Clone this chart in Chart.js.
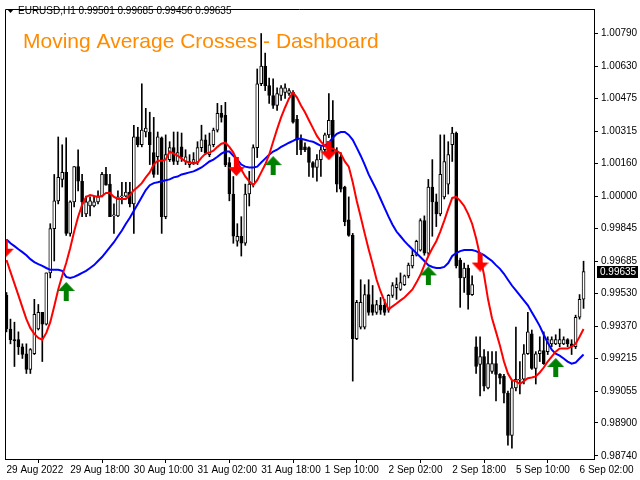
<!DOCTYPE html>
<html>
<head>
<meta charset="utf-8">
<script src="https://cdn.jsdelivr.net/npm/chart.js@4.4.1/dist/chart.umd.min.js"></script>
<style>
  html, body { margin: 0; padding: 0; background: #fff; }
  #wrap { width: 640px; height: 480px; }
</style>
</head>
<body>
<div id="wrap"><canvas id="chart" width="640" height="480"></canvas></div>
<script>
const symbol = 'EURUSD,H1';
const title = 'Moving Average Crosses - Dashboard';

// x axis: bar index -> time label
const tickIdx = [0, 16, 32, 48, 64, 80, 96, 112, 128, 144];
const timeLabels = ['29 Aug 2022', '29 Aug 18:00', '30 Aug 10:00', '31 Aug 02:00', '31 Aug 18:00',
  '1 Sep 10:00', '2 Sep 02:00', '2 Sep 18:00', '5 Sep 10:00', '6 Sep 02:00'];

// price axis labels
const yTicks = [0.98740, 0.98900, 0.99055, 0.99215, 0.99370, 0.99530, 0.99685,
  0.99845, 1.00000, 1.00160, 1.00315, 1.00475, 1.00630, 1.00790];

// H1 candles
const open = [
  0.99519,0.99356,0.99304,0.99304,0.99270,0.99236,0.99160,0.99236,0.99356,0.99437,
  0.99379,0.99628,0.99843,0.99978,1.00082,1.00116,0.99820,0.99973,1.00144,1.00073,
  0.99915,0.99953,0.99953,0.99973,1.00001,1.00106,1.00059,0.99905,0.99905,0.99997,
  1.00001,1.00021,0.99963,1.00288,1.00250,1.00312,1.00312,1.00212,1.00192,1.00284,
  0.99901,1.00178,1.00236,1.00169,1.00240,1.00169,1.00154,1.00164,1.00164,1.00236,
  1.00274,1.00202,1.00250,1.00321,1.00403,1.00393,1.00164,1.00011,0.99782,0.99806,
  0.99772,1.00011,1.00059,1.00236,1.00546,1.00632,1.00537,1.00489,1.00441,1.00489,
  1.00504,1.00499,1.00504,1.00374,1.00274,1.00240,1.00236,1.00164,1.00140,1.00178,
  1.00226,1.00298,1.00369,1.00217,1.00192,1.00045,0.99886,0.99810,0.99309,0.99365,
  0.99365,0.99523,0.99475,0.99437,0.99471,0.99471,0.99447,0.99519,0.99557,0.99548,
  0.99571,0.99614,0.99662,0.99714,0.99739,0.99882,0.99724,1.00045,0.99973,0.99915,
  0.99997,1.00059,1.00250,1.00307,0.99691,0.99604,0.99652,0.99523,0.99270,0.99184,
  0.99222,0.99070,0.99150,0.99188,0.99136,0.99126,0.99045,0.98840,0.99070,0.99107,
  0.99112,0.99236,0.99332,0.99165,0.99236,0.99251,0.99246,0.99284,0.99284,0.99284,
  0.99284,0.99304,0.99284,0.99270,0.99413,0.99501];
const high = [
  0.99533,0.99404,0.99389,0.99342,0.99284,0.99284,0.99261,0.99500,0.99475,0.99437,
  0.99628,0.99867,1.00106,1.00288,1.00250,1.00284,0.99978,1.00144,1.00226,1.00106,
  1.00001,0.99997,1.00001,1.00026,1.00116,1.00140,1.00106,0.99963,1.00026,1.00068,
  1.00068,1.00068,1.00345,1.00335,1.00546,1.00427,1.00408,1.00383,1.00312,1.00288,
  1.00298,1.00265,1.00312,1.00312,1.00307,1.00226,1.00202,1.00212,1.00265,1.00345,
  1.00298,1.00307,1.00331,1.00451,1.00441,1.00456,1.00188,1.00096,0.99867,0.99901,
  1.00059,1.00121,1.00250,1.00618,1.00790,1.00695,1.00574,1.00570,1.00527,1.00537,
  1.00546,1.00523,1.00513,1.00393,1.00298,1.00260,1.00240,1.00169,1.00202,1.00240,
  1.00307,1.00499,1.00465,1.00236,1.00212,1.00049,0.99997,0.99820,0.99495,0.99595,
  0.99571,0.99595,0.99567,0.99495,0.99509,0.99500,0.99523,0.99581,0.99604,0.99628,
  0.99618,0.99676,0.99739,0.99787,0.99891,0.99905,1.00082,1.00178,1.00011,1.00298,
  1.00298,1.00265,1.00335,1.00312,0.99700,0.99676,0.99666,0.99614,0.99318,0.99318,
  0.99256,0.99246,0.99246,0.99246,0.99140,0.99136,0.99055,0.99103,0.99365,0.99198,
  0.99280,0.99437,0.99351,0.99246,0.99318,0.99342,0.99318,0.99318,0.99328,0.99356,
  0.99318,0.99309,0.99304,0.99423,0.99523,0.99685];
const low = [
  0.99342,0.99284,0.99174,0.99232,0.99213,0.99140,0.99140,0.99232,0.99351,0.99198,
  0.99375,0.99604,0.99686,0.99963,1.00045,0.99810,0.99806,0.99949,1.00026,0.99901,
  0.99901,0.99905,0.99949,0.99963,0.99997,1.00054,0.99901,0.99820,0.99901,0.99963,
  0.99997,0.99949,0.99820,1.00240,1.00240,1.00288,1.00154,1.00092,1.00106,0.99820,
  0.99891,1.00169,1.00154,1.00154,1.00169,1.00154,1.00140,1.00154,1.00154,1.00217,
  1.00202,1.00192,1.00240,1.00312,1.00360,1.00144,0.99978,0.99772,0.99758,0.99710,
  0.99762,0.99953,1.00045,1.00188,1.00537,1.00513,1.00451,1.00427,1.00417,1.00465,
  1.00475,1.00489,1.00355,1.00202,1.00202,1.00217,1.00096,1.00092,1.00073,1.00096,
  1.00217,1.00284,1.00212,1.00021,1.00021,0.99857,0.99806,0.99103,0.99304,0.99356,
  0.99356,0.99423,0.99423,0.99427,0.99427,0.99423,0.99437,0.99509,0.99500,0.99543,
  0.99567,0.99604,0.99652,0.99710,0.99734,0.99714,0.99714,0.99806,0.99853,0.99905,
  0.99987,1.00011,1.00169,0.99652,0.99461,0.99533,0.99452,0.99519,0.99140,0.99031,
  0.99055,0.99065,0.99140,0.99007,0.99089,0.98997,0.98792,0.98778,0.99055,0.99041,
  0.99089,0.99232,0.99160,0.99089,0.99198,0.99184,0.99232,0.99270,0.99280,0.99270,
  0.99280,0.99270,0.99232,0.99261,0.99404,0.99456];
const close = [
  0.99356,0.99304,0.99299,0.99270,0.99232,0.99160,0.99256,0.99427,0.99437,0.99379,
  0.99628,0.99843,0.99978,1.00092,1.00116,0.99820,0.99973,1.00144,1.00073,0.99973,
  0.99973,0.99978,0.99973,1.00001,1.00106,1.00054,0.99901,0.99905,0.99997,1.00001,
  1.00021,0.99963,1.00288,1.00250,1.00321,1.00331,1.00250,1.00106,1.00288,0.99901,
  1.00202,1.00236,1.00169,1.00212,1.00192,1.00192,1.00169,1.00178,1.00236,1.00274,
  1.00212,1.00250,1.00321,1.00403,1.00383,1.00154,1.00011,0.99806,0.99806,0.99772,
  1.00011,1.00059,1.00236,1.00546,1.00632,1.00537,1.00489,1.00441,1.00499,1.00527,
  1.00527,1.00513,1.00360,1.00274,1.00226,1.00226,1.00164,1.00140,1.00178,1.00226,
  1.00298,1.00369,1.00217,1.00059,1.00035,0.99877,0.99810,0.99309,0.99485,0.99485,
  0.99523,0.99437,0.99437,0.99475,0.99447,0.99437,0.99519,0.99567,0.99571,0.99581,
  0.99614,0.99666,0.99714,0.99782,0.99882,0.99724,1.00045,0.99973,0.99915,1.00106,
  1.00169,1.00202,1.00307,0.99662,0.99604,0.99652,0.99523,0.99571,0.99174,0.99222,
  0.99079,0.99188,0.99188,0.99136,0.99117,0.99045,0.98840,0.99070,0.99112,0.99112,
  0.99236,0.99342,0.99165,0.99236,0.99251,0.99188,0.99304,0.99304,0.99304,0.99304,
  0.99304,0.99284,0.99270,0.99413,0.99500,0.99635];

// fast MA (red) and slow MA (blue)
const fastMA = [
  0.99691,0.99633,0.99576,0.99519,0.99461,0.99404,0.99360,0.99332,0.99313,0.99304,
  0.99337,0.99389,0.99466,0.99548,0.99614,0.99676,0.99748,0.99829,0.99901,0.99958,
  0.99997,1.00006,1.00001,0.99997,1.00001,1.00016,1.00016,0.99997,0.99987,0.99987,
  0.99987,1.00006,1.00030,1.00045,1.00064,1.00092,1.00116,1.00154,1.00173,1.00173,
  1.00178,1.00217,1.00207,1.00197,1.00183,1.00169,1.00164,1.00159,1.00164,1.00188,
  1.00207,1.00212,1.00221,1.00240,1.00255,1.00260,1.00240,1.00212,1.00169,1.00130,
  1.00096,1.00073,1.00054,1.00078,1.00116,1.00154,1.00202,1.00265,1.00326,1.00383,
  1.00431,1.00475,1.00504,1.00479,1.00441,1.00408,1.00369,1.00331,1.00293,1.00265,
  1.00245,1.00236,1.00231,1.00221,1.00207,1.00169,1.00144,1.00068,0.99978,0.99901,
  0.99820,0.99743,0.99671,0.99595,0.99538,0.99490,0.99452,0.99466,0.99480,0.99495,
  0.99509,0.99528,0.99548,0.99581,0.99618,0.99666,0.99710,0.99748,0.99782,0.99829,
  0.99882,0.99939,0.99992,0.99997,0.99978,0.99953,0.99915,0.99867,0.99796,0.99710,
  0.99618,0.99500,0.99408,0.99342,0.99275,0.99198,0.99140,0.99107,0.99103,0.99089,
  0.99103,0.99117,0.99121,0.99126,0.99145,0.99169,0.99198,0.99222,0.99246,0.99261,
  0.99261,0.99261,0.99270,0.99284,0.99318,0.99356];
const slowMA = [
  0.99791,0.99772,0.99758,0.99743,0.99729,0.99714,0.99695,0.99681,0.99671,0.99662,
  0.99652,0.99643,0.99643,0.99643,0.99638,0.99609,0.99604,0.99609,0.99618,0.99628,
  0.99638,0.99652,0.99666,0.99686,0.99705,0.99729,0.99753,0.99777,0.99806,0.99834,
  0.99867,0.99896,0.99930,0.99963,0.99997,1.00030,1.00054,1.00064,1.00068,1.00073,
  1.00078,1.00082,1.00092,1.00096,1.00106,1.00111,1.00116,1.00121,1.00130,1.00140,
  1.00154,1.00169,1.00178,1.00192,1.00207,1.00217,1.00217,1.00197,1.00178,1.00154,
  1.00144,1.00140,1.00140,1.00144,1.00164,1.00183,1.00202,1.00217,1.00226,1.00240,
  1.00250,1.00260,1.00269,1.00279,1.00279,1.00274,1.00269,1.00265,1.00255,1.00245,
  1.00245,1.00260,1.00284,1.00303,1.00312,1.00312,1.00298,1.00274,1.00236,1.00197,
  1.00154,1.00106,1.00068,1.00030,0.99987,0.99944,0.99901,0.99862,0.99829,0.99806,
  0.99782,0.99762,0.99743,0.99724,0.99705,0.99686,0.99666,0.99657,0.99652,0.99652,
  0.99657,0.99676,0.99710,0.99724,0.99734,0.99739,0.99739,0.99739,0.99734,0.99724,
  0.99714,0.99700,0.99686,0.99666,0.99648,0.99624,0.99595,0.99567,0.99543,0.99519,
  0.99495,0.99471,0.99437,0.99404,0.99370,0.99328,0.99289,0.99256,0.99236,0.99227,
  0.99213,0.99198,0.99188,0.99193,0.99213,0.99232];

// cross signals
const buyIdx = [15, 67, 106, 138];
const buyPrice = [0.99538, 1.00149, 0.99614, 0.99169];
const sellIdx = [-0.3, 57.75, 81, 119];
const sellPrice = [0.99748, 1.00144, 1.00221, 0.99681];

const idx = close.map((_, i) => i);

function arrowImage(up, color) {
    const c = document.createElement('canvas');
    c.width = 17;
    c.height = 19;
    const g = c.getContext('2d');
    g.fillStyle = color;
    g.beginPath();
    if (up) {
        g.moveTo(8.5, 0); g.lineTo(17, 9); g.lineTo(11, 9); g.lineTo(11, 19);
        g.lineTo(6, 19); g.lineTo(6, 9); g.lineTo(0, 9);
    } else {
        g.moveTo(6, 0); g.lineTo(11, 0); g.lineTo(11, 10); g.lineTo(17, 10);
        g.lineTo(8.5, 19); g.lineTo(0, 10); g.lineTo(6, 10);
    }
    g.closePath();
    g.fill();
    return c;
}

const font = 'Liberation Sans';

const decor = {
    id: 'decor',
    afterDraw(chart) {
        const { ctx, chartArea: a, scales: { y } } = chart;
        ctx.save();
        // frame top / left
        ctx.strokeStyle = '#000';
        ctx.lineWidth = 1;
        ctx.beginPath();
        ctx.moveTo(a.left + 0.5, a.bottom);
        ctx.lineTo(a.left + 0.5, a.top + 0.5);
        ctx.lineTo(a.right, a.top + 0.5);
        ctx.stroke();

        // header line
        const n = close.length - 1;
        ctx.fillStyle = '#000';
        ctx.beginPath();
        ctx.moveTo(7, 9); ctx.lineTo(14, 9); ctx.lineTo(10.5, 13);
        ctx.closePath();
        ctx.fill();
        ctx.font = `10px "${font}"`;
        ctx.textBaseline = 'middle';
        ctx.textAlign = 'left';
        const head = `${symbol} ${open[n].toFixed(5)} ${high[n].toFixed(5)} ${low[n].toFixed(5)} ${close[n].toFixed(5)}`;
        ctx.fillText(head, 18, 11);

        // title
        ctx.fillStyle = '#FF8C00';
        ctx.font = `21px "${font}"`;
        ctx.textBaseline = 'alphabetic';
        ctx.fillText(title, 23, 48);

        // last price tag
        const last = close[n];
        const py = Math.round(y.getPixelForValue(last));
        ctx.fillStyle = '#000';
        ctx.fillRect(a.right + 3, py - 6, 41, 12);
        ctx.fillStyle = '#fff';
        ctx.font = `10px "${font}"`;
        ctx.textBaseline = 'middle';
        ctx.fillText(last.toFixed(5), a.right + 6, py);
        ctx.restore();
    }
};

const axisFont = { family: font, size: 10 };

new Chart(document.getElementById('chart'), {
    type: 'bar',
    data: {
        datasets: [
            {
                label: 'wick',
                data: idx.map(i => ({ x: i, y: [low[i], high[i]] })),
                backgroundColor: '#000',
                barThickness: 1,
                grouped: false,
                order: 5
            },
            {
                label: 'body',
                data: idx.map(i => ({ x: i, y: [open[i], close[i]] })),
                backgroundColor: (c) => close[c.dataIndex] >= open[c.dataIndex] ? '#fff' : '#000',
                borderColor: '#000',
                borderWidth: 1,
                borderSkipped: false,
                barThickness: 3,
                minBarLength: 1,
                grouped: false,
                order: 4
            },
            {
                type: 'line',
                label: 'slow',
                data: idx.map(i => ({ x: i, y: slowMA[i] })),
                borderColor: '#0000FF',
                borderWidth: 2,
                pointRadius: 0,
                tension: 0,
                order: 3
            },
            {
                type: 'line',
                label: 'fast',
                data: idx.map(i => ({ x: i, y: fastMA[i] })),
                borderColor: '#FF0000',
                borderWidth: 2,
                pointRadius: 0,
                tension: 0,
                order: 2
            },
            {
                type: 'scatter',
                label: 'buy',
                data: buyIdx.map((x, k) => ({ x: x, y: buyPrice[k] })),
                pointStyle: arrowImage(true, '#008000'),
                order: 1
            },
            {
                type: 'scatter',
                label: 'sell',
                data: sellIdx.map((x, k) => ({ x: x, y: sellPrice[k] })),
                pointStyle: arrowImage(false, '#FF0000'),
                order: 1
            }
        ]
    },
    options: {
        responsive: false,
        animation: false,
        devicePixelRatio: 1,
        events: [],
        layout: { padding: { left: 2, top: 2, right: 0, bottom: 0 } },
        plugins: { legend: { display: false }, tooltip: { enabled: false } },
        scales: {
            x: {
                type: 'linear',
                min: -0.375,
                max: 147.625,
                offset: false,
                grid: { drawOnChartArea: false, drawTicks: true, tickLength: 4, color: '#000' },
                border: { display: true, color: '#000' },
                ticks: {
                    align: 'start',
                    maxRotation: 0,
                    autoSkip: false,
                    padding: 1,
                    color: '#000',
                    font: axisFont,
                    callback: (v, i) => timeLabels[i]
                },
                afterBuildTicks: (s) => { s.ticks = tickIdx.map(v => ({ value: v })); },
                afterFit: (s) => { s.height = 21; }
            },
            y: {
                type: 'linear',
                position: 'right',
                min: 0.98725,
                max: 1.00909,
                grid: { drawOnChartArea: false, drawTicks: true, tickLength: 4, color: '#000' },
                border: { display: true, color: '#000' },
                ticks: {
                    padding: 3,
                    color: '#000',
                    font: axisFont,
                    callback: (v) => v.toFixed(5)
                },
                afterBuildTicks: (s) => { s.ticks = yTicks.map(v => ({ value: v })); },
                afterFit: (s) => { s.width = 46; }
            }
        }
    },
    plugins: [decor]
});
</script>
</body>
</html>
